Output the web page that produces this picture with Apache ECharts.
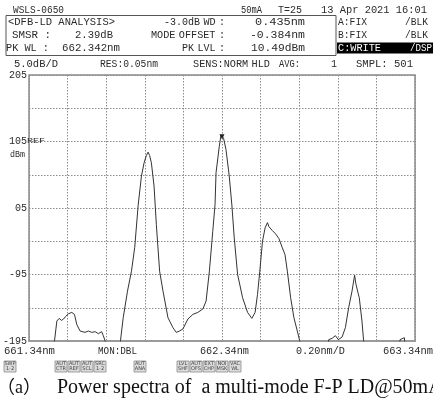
<!DOCTYPE html>
<html><head><meta charset="utf-8">
<script src="https://cdn.jsdelivr.net/npm/echarts@6/dist/echarts.min.js"></script>
<style>html,body{margin:0;padding:0;background:#fff}#c{width:433px;height:403px}</style>
</head><body><div id="c"></div>
<script>
// ---- data (wavelength in nm, level in dBm) ----
const wavelengths = [
661.34,661.45,661.4725,661.4843,661.4962,661.5080,661.5189,661.5300,661.5446,661.5616,661.5756,661.5874,
661.6044,661.6302,661.6480,661.6647,661.6830,661.6993,661.7163,661.7251,661.7333,661.7500,661.8000,
661.8142,661.8281,661.8503,661.8709,661.8879,661.9055,661.9225,661.9364,661.9482,661.9570,661.9650,
661.9740,661.9879,661.9998,662.0168,662.0343,662.0601,662.0859,662.1029,662.1199,662.1374,662.1632,
662.1890,662.2147,662.2405,662.2575,662.2746,662.2921,662.3039,662.3091,662.3261,662.3349,662.3400,
662.3480,662.3606,662.3776,662.3915,662.4034,662.4209,662.4467,662.4725,662.4946,662.5116,662.5240,
662.5359,662.5498,662.5632,662.5756,662.5830,662.5926,662.6010,662.6096,662.6180,662.6271,662.6350,
662.6441,662.6529,662.6663,662.6786,662.6957,662.7127,662.7302,662.7420,662.7600,662.8800,662.8931,
662.9106,662.9276,662.9430,662.9622,662.9792,662.9962,663.0137,663.0271,663.0330,663.0395,663.0450,
663.0513,663.0652,663.0735,663.0900,663.2500,663.2627,663.2700,663.2848,663.2950,663.34];
const levels = [
-22,-22,-19.4,-16.5,-16.1,-16.4,-16.2,-15.8,-15.4,-15.2,-15.5,-17.0,
-18.0,-18.2,-18.0,-18.2,-18.1,-18.4,-18.1,-18.7,-19.4,-22,-22,
-19.4,-16.0,-12.0,-9.0,-5.4,0.9,5.3,7.3,8.4,8.9,8.4,
7.3,3.8,-2.0,-9.0,-12.0,-16.0,-17.5,-18.2,-18.0,-17.7,-16.2,
-15.5,-15.2,-14.7,-13.5,-9.0,-3.0,1.0,5.8,9.8,11.5,11.8,
11.0,9.3,5.3,0.8,-4.0,-9.5,-13.0,-15.2,-16.1,-15.2,-12.5,
-9.0,-4.5,-2.5,-1.7,-2.3,-2.2,-2.9,-2.7,-3.4,-3.2,-4.1,
-4.0,-5.5,-6.5,-9.0,-13.0,-16.0,-18.0,-19.4,-22,-22,-19.3,
-19.1,-18.7,-19.3,-18.9,-17.5,-14.5,-12.0,-9.6,-10.8,-11.0,-12.3,
-13.0,-16.5,-19.4,-22,-22,-19.3,-19.2,-19.0,-22,-22];
const xTickLabels = ['661.34nm','662.34nm','663.34nm'];
const yTickLabels = ['-195','-95','05','105','205'];
const buttonLabels = [['SWP','1-2'],['AUT','CTR'],['AUT','REF'],['AUT','SCL'],['SRC','1-2'],['AUT','ANA'],
  ['LVL','SHF'],['AUT','OFS'],['EXT','CHP'],['NOI','MSK'],['VAC','WL']];
const buttonX = [4,55,68,81,94,134,177,190,203,216,229];

const MONO = '"Liberation Mono","DejaVu Sans Mono",monospace';
const TC = '#2a2a2a';
const FS = 10.3;
// text fitted between x0 and x1; words laid out with a given space width
function tw(text, x0, x1, y, extra, sp) {
  extra = extra || {};
  const fs = extra.fontSize || FS;
  const cw = 0.6 * fs;
  const spw = (sp === undefined) ? cw : sp;
  const words = text.split(' ');
  let natural = 0;
  words.forEach(function(w, i){ natural += w.length * cw + (i ? spw : 0); });
  const s = (x1 - x0) / natural;
  const children = [];
  let cx = 0;
  words.forEach(function(w, i){
    if (i) cx += spw;
    children.push({type:'text', x:cx, y:0,
      style:Object.assign({text:w, x:0, y:0, fill:TC, fontSize:fs, fontFamily:MONO, align:'left', verticalAlign:'middle'}, extra)});
    cx += w.length * cw;
  });
  return {type:'group', x:x0, y:y, scaleX:s, children:children};
}
const g = [];
// header
g.push(tw('WSLS-0650',13,64,10));
g.push(tw('50mA',241,262,10));
g.push(tw('T=25',278,302,10));
g.push(tw('13 Apr 2021 16:01',321,427,10));
g.push({type:'rect', shape:{x:6,y:15.5,width:330,height:40}, style:{fill:'none', stroke:'#555', lineWidth:1}});
const r1=22, r2=35, r3=48;
g.push(tw('<DFB-LD ANALYSIS>',8,115,r1));
g.push(tw('-3.0dB WD :',164,225,r1,null,3.5));
g.push(tw('0.435nm',255,305,r1));
g.push(tw('SMSR :',12,51,r2));
g.push(tw('2.39dB',75,113,r2));
g.push(tw('MODE OFFSET :',151,225,r2,null,3.5));
g.push(tw('-0.384nm',250,305,r2));
g.push(tw('PK WL :',6,49,r3));
g.push(tw('662.342nm',62,120,r3));
g.push(tw('PK LVL :',182,225,r3,null,3.5));
g.push(tw('10.49dBm',251,305,r3));
g.push(tw('A:FIX',338,367,r1));
g.push(tw('/BLK',405,428,r1));
g.push(tw('B:FIX',338,367,r2));
g.push(tw('/BLK',405,428,r2));
g.push({type:'rect', shape:{x:337,y:r3-5.5,width:96,height:11}, style:{fill:'#000'}});
g.push(tw('C:WRITE',338,381,r3,{fill:'#fff'}));
g.push(tw('/DSP',410,432,r3,{fill:'#fff'}));
// second row
const r4=64;
g.push(tw('5.0dB/D',14,58,r4));
g.push(tw('RES:0.05nm',100,158,r4));
g.push(tw('SENS:NORM HLD',193,270,r4,null,3.5));
g.push(tw('AVG:',279,300,r4));
g.push(tw('1',331,337,r4));
g.push(tw('SMPL: 501',356,413,r4));
// axis side texts
g.push(tw('REF',27,45,141,{fontSize:8}));
g.push(tw('dBm',10,25,155,{fontSize:9}));
// bottom row
const r5=351;
g.push(tw(xTickLabels[0],4,55,r5));
g.push(tw('MON:DBL',98,137,r5));
g.push(tw(xTickLabels[1],200,249,r5));
g.push(tw('0.20nm/D',296,345,r5));
g.push(tw(xTickLabels[2],383,433,r5));
// buttons
buttonLabels.forEach(function(b,i){
  g.push({type:'rect', shape:{x:buttonX[i],y:361,width:12,height:11}, style:{fill:'#dcdcdc', stroke:'#8a8a8a', lineWidth:0.8}});
  g.push({type:'text', style:{text:b[0]+'\n'+b[1], x:buttonX[i]+6, y:366.5, fill:'#444', fontSize:5, lineHeight:5.2,
    fontFamily:'"DejaVu Sans",sans-serif', align:'center', verticalAlign:'middle'}});
});
// caption
g.push({type:'text', style:{text:'（a）', x:-3, y:388, fill:'#111', fontSize:18,
  fontFamily:'"Liberation Serif","Noto Sans CJK SC",serif', align:'left', verticalAlign:'middle'}});
g.push({type:'text', style:{text:'Power spectra of  a multi-mode F-P LD@50mA', x:57, y:388, fill:'#111', fontSize:20,
  fontFamily:'"Liberation Serif",serif', align:'left', verticalAlign:'middle'}});

const chart = echarts.init(document.getElementById('c'), null, {renderer:'canvas'});
const gridLine = {show:true, lineStyle:{type:[1.5,1.5], color:'#8c8c8c', width:1}};
const peak1 = levels.indexOf(Math.max.apply(null, levels.slice(0,40)));
const peak2 = levels.indexOf(Math.max.apply(null, levels));
chart.setOption({
  animation:false,
  grid:{left:27, top:75, width:388, height:266, show:true, borderColor:'#8a8a8a', borderWidth:1.5, containLabel:false},
  xAxis:[
    {type:'value', min:661.34, max:663.34, show:false},
    {type:'value', min:0, max:10, interval:1, position:'bottom', axisLine:{show:true, lineStyle:{color:'#9a9a9a', width:2}},
      axisTick:{show:false}, axisLabel:{show:false}, splitLine:gridLine}
  ],
  yAxis:[
    {type:'value', min:-19.5, max:20.5, show:false},
    {type:'value', min:0, max:8, interval:1, position:'left', axisLine:{show:false}, axisTick:{show:false},
      splitLine:gridLine,
      axisLabel:{show:true, margin:2, color:TC, fontSize:10, fontFamily:MONO,
        formatter:function(v){ return (v%2===0) ? yTickLabels[v/2] : ''; }}}
  ],
  series:[{
    type:'line', xAxisIndex:0, yAxisIndex:0, showSymbol:false, clip:true,
    data: wavelengths.map(function(w,i){ return [w, levels[i]]; }),
    lineStyle:{color:'#333', width:1},
    markPoint:{
      animation:false,
      data:[
        {coord:[wavelengths[peak1], levels[peak1]], symbol:'none',
          label:{show:true, formatter:'2', fontSize:7, color:'#333', fontFamily:MONO, offset:[0,-3]}},
        {coord:[wavelengths[peak2], levels[peak2]], symbol:'triangle', symbolSize:[5,5], symbolRotate:180, symbolOffset:[0,4],
          itemStyle:{color:'#222'}, label:{show:false}}
      ]
    }
  }],
  graphic:g
});
</script></body></html>
